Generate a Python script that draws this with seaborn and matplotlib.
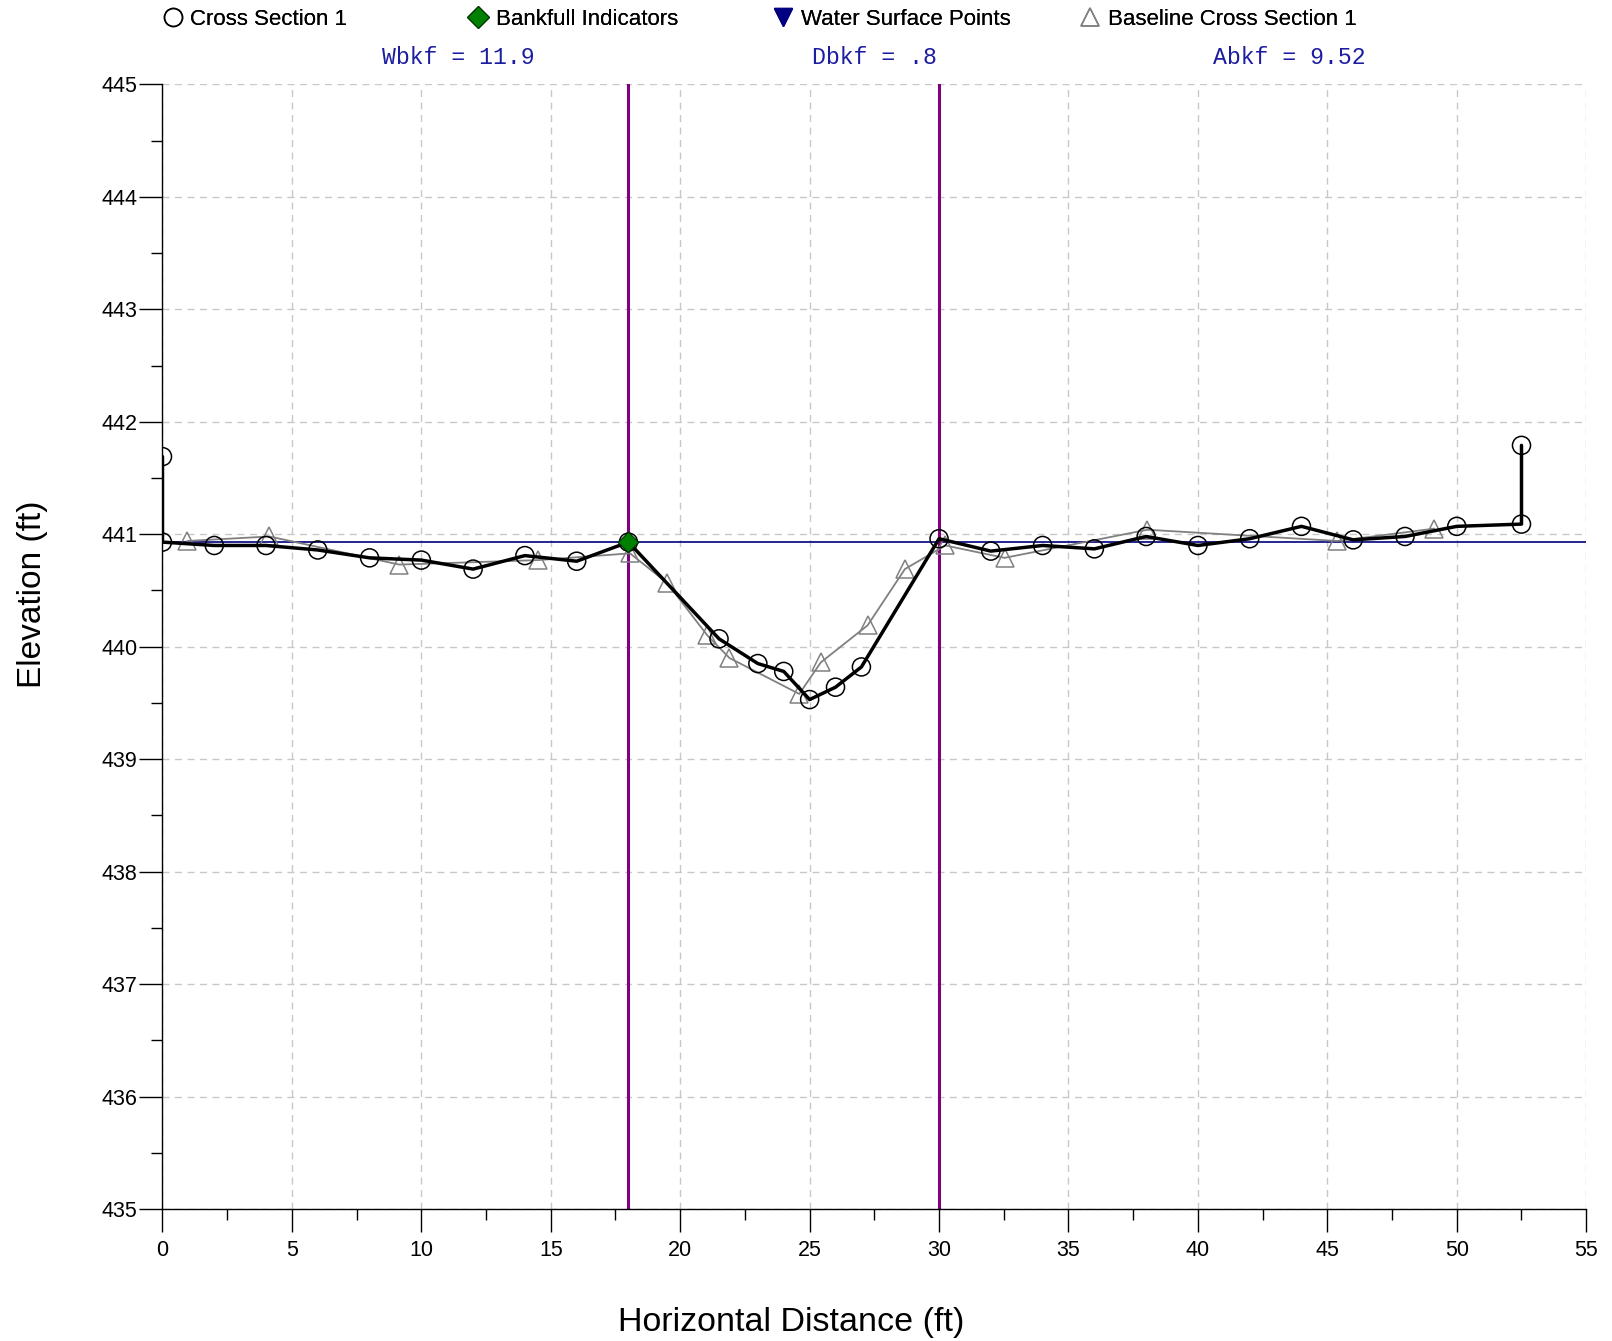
import pandas as pd
import seaborn as sns
import matplotlib.pyplot as plt
from matplotlib.lines import Line2D

# Cross section survey (station ft, elevation ft)
xs_station = [0, 0, 2, 4, 6, 8, 10, 12, 14, 16, 18, 21.5, 23, 24, 25, 26, 27, 30,
              32, 34, 36, 38, 40, 42, 44, 46, 48, 50, 52.5, 52.5]
xs_elev = [441.69, 440.93, 440.90, 440.90, 440.86, 440.79, 440.77, 440.69, 440.81, 440.76,
           440.93, 440.07, 439.85, 439.78, 439.53, 439.64, 439.82, 440.96,
           440.85, 440.90, 440.87, 440.98, 440.90, 440.96, 441.07, 440.95, 440.98, 441.07,
           441.09, 441.79]

# Baseline cross section
base_station = [0.96, 4.13, 9.15, 14.52, 18.06, 19.48, 21.05, 21.9, 24.6, 25.43, 27.24,
                28.68, 30.24, 32.53, 38.05, 45.39, 49.13]
base_elev = [440.94, 440.98, 440.73, 440.77, 440.83, 440.57, 440.10, 439.90, 439.58, 439.86,
             440.19, 440.69, 440.90, 440.79, 441.04, 440.94, 441.05]

# Bankfull indicator and bankfull limits
bkf_station = [18]
bkf_elev = [440.93]
bkf_limits = [18, 30]
water_surface = 440.93

stats_labels = ["Wbkf = 11.9", "Dbkf = .8", "Abkf = 9.52"]

xs = pd.DataFrame({"station": xs_station, "elev": xs_elev})
base = pd.DataFrame({"station": base_station, "elev": base_elev})
bkf = pd.DataFrame({"station": bkf_station, "elev": bkf_elev})

sns.set_style("ticks")
plt.rcParams["font.family"] = ["Liberation Sans", "DejaVu Sans"]
plt.rcParams["text.color"] = "black"
plt.rcParams["axes.labelcolor"] = "black"
plt.rcParams["xtick.color"] = "black"
plt.rcParams["ytick.color"] = "black"

fig = plt.figure(figsize=(16.12, 13.41), dpi=100)
ax = fig.add_axes([0.1008, 0.0984, 0.8832, 0.8387])

# water surface and bankfull limits
ax.axhline(water_surface, color="#000080", lw=1.2, zorder=2)
for b in bkf_limits:
    ax.axvline(b, color="#800080", lw=2.2, zorder=2)

# baseline
sns.lineplot(data=base, x="station", y="elev", ax=ax, estimator=None, sort=False,
             color="#808080", lw=1.3, marker="^", markersize=13,
             markerfacecolor="none", markeredgecolor="#808080", markeredgewidth=1.1, zorder=3)

# current cross section
sns.lineplot(data=xs, x="station", y="elev", ax=ax, estimator=None, sort=False,
             color="black", lw=2.5, zorder=4)
sns.scatterplot(data=xs, x="station", y="elev", ax=ax, marker="o", s=13 ** 2,
                facecolor="none", edgecolor="black", linewidth=1.1, zorder=5)
sns.scatterplot(data=bkf, x="station", y="elev", ax=ax, marker="D", s=10.5 ** 2,
                color="#008000", edgecolor="#003000", linewidth=0.8, zorder=6)

ax.set_xlim(0, 55)
ax.set_ylim(435, 445)
ax.set_xticks(range(0, 56, 5))
ax.set_xticks([x + 2.5 for x in range(0, 55, 5)], minor=True)
ax.set_yticks(range(435, 446))
ax.set_yticks([y + 0.5 for y in range(435, 445)], minor=True)
ax.tick_params(axis="both", which="major", length=16.5, width=1, labelsize=15.5,
               color="black", labelcolor="black")
ax.tick_params(axis="both", which="minor", length=8, width=1, color="black")
ax.tick_params(axis="x", which="major", pad=5.5)
ax.tick_params(axis="y", which="major", pad=1.5)
ax.grid(True, which="major", linestyle=(0, (5, 4)), color="#c8c8c8", lw=1)
ax.set_axisbelow(True)
for s in ["top", "right"]:
    ax.spines[s].set_visible(False)
for s in ["left", "bottom"]:
    ax.spines[s].set_color("black")
    ax.spines[s].set_linewidth(1)

ax.set_xlabel("Horizontal Distance (ft)", fontsize=24.5, color="black")
ax.set_ylabel("Elevation (ft)", fontsize=24, color="black")
ax.xaxis.set_label_coords(0.4416, -0.0875)
ax.yaxis.set_label_coords(-0.0805, 0.5464)

# legend entries laid out on an even spacing
handles = [
    Line2D([], [], ls="none", marker="o", markersize=13, mfc="none", mec="black", mew=1.1),
    Line2D([], [], ls="none", marker="D", markersize=11.5, mfc="#008000", mec="#003000", mew=0.8),
    Line2D([], [], ls="none", marker="v", markersize=13, mfc="#000080", mec="#000080"),
    Line2D([], [], ls="none", marker="^", markersize=13, mfc="none", mec="#808080", mew=1.1),
]
names = ["Cross Section 1", "Bankfull Indicators", "Water Surface Points", "Baseline Cross Section 1"]
leg_x = [172.7, 478, 783.5, 1090]
for h, n, lx in zip(handles, names, leg_x):
    lg = fig.legend([h], [n], loc="center left", frameon=False, fontsize=16,
                    bbox_to_anchor=((lx - 9) / 1612, 1 - 19.5 / 1341),
                    borderpad=0, borderaxespad=0, handlelength=0.8, handletextpad=0.4)
    fig.add_artist(lg)

for t, tx in zip(stats_labels, [458.5, 874, 1289]):
    fig.text(tx / 1612, 1 - 58 / 1341, t, ha="center", va="center",
             family=["Liberation Mono", "DejaVu Sans Mono"], fontsize=16.7, color="#1c1ca0")

fig.savefig("out.png", dpi=100)
